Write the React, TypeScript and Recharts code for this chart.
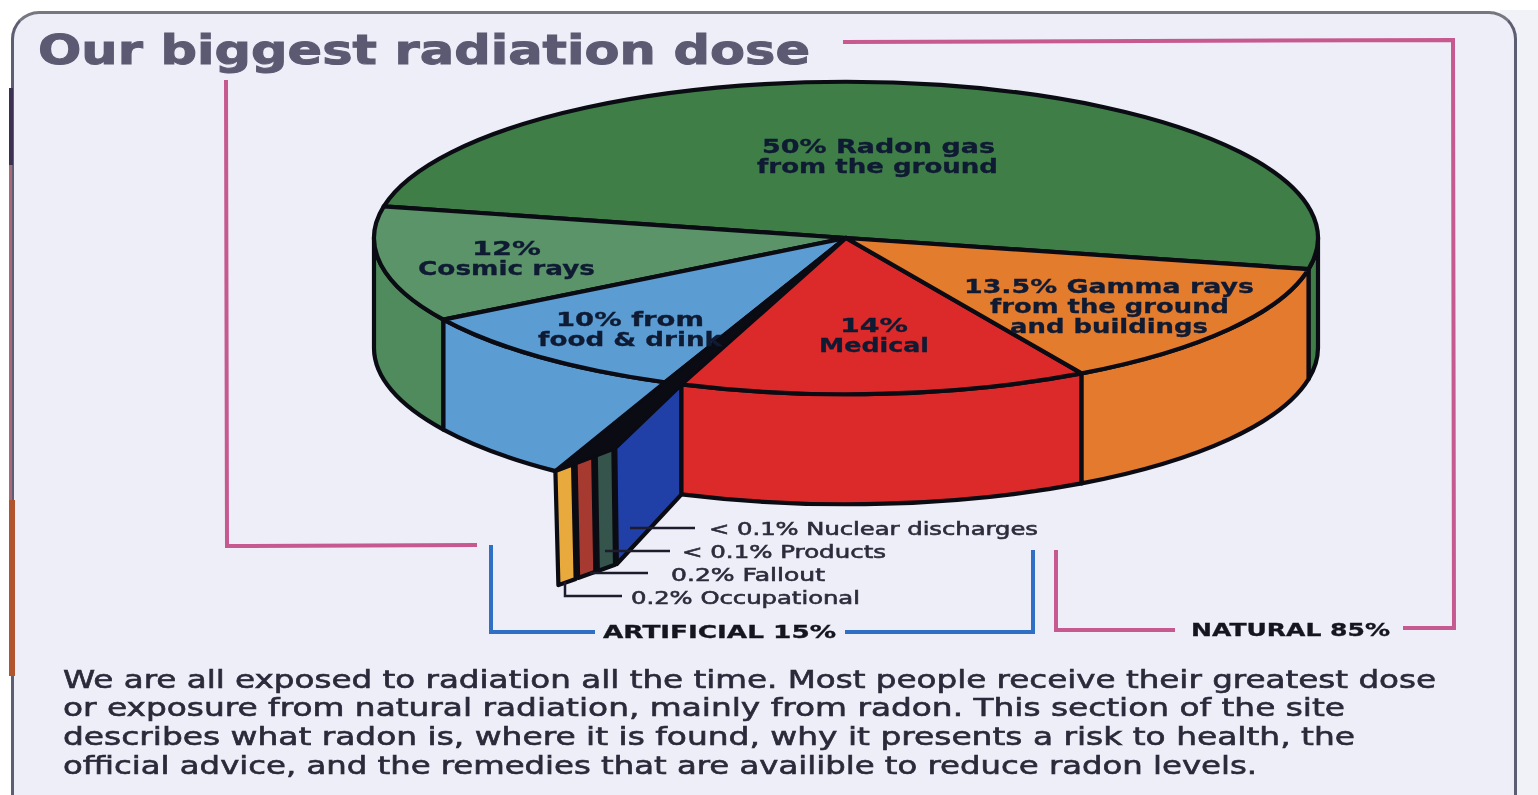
import React from "react";
import { PieChart, Pie } from "recharts";

// ---------- data ----------
const categories = [
  "Radon gas from the ground",
  "Cosmic rays",
  "Food & drink",
  "Occupational",
  "Fallout",
  "Products",
  "Nuclear discharges",
  "Medical",
  "Gamma rays from the ground and buildings",
];
const percentages = [50, 12, 10, 0.2, 0.2, 0.1, 0.1, 14, 13.5];

// ---------- style ----------
const topColors = ["#3f7e47", "#5a9468", "#5b9cd3", "#111", "#111", "#111", "#111", "#dc2a2a", "#e47c2e"];
const wallColors = ["#3f7e47", "#4f8b5c", "#5b9cd3", "#e9aa3d", "#a63a30", "#35544b", "#2040a8", "#dc2a2a", "#e37a2e"];
const planeRanges: ([number, number] | null)[] = [null, null, null, [0.86, 1], [0.7, 0.84], [0.54, 0.68], [0, 0.525], null, null];
const INK = "#0b0b14";
const OUTLINE = 4.2;
const START = -11.5;
const CX = 846;
const CY = 238;
const RADIUS = 472;
const TILT = 0.331;
const DEPTH = 110;
const CUT_ANGLE = 232;
const KNEE_T = 0.525;
const KNEE_TOP_DROP = 18;
const KNEE_BOTTOM_DROP = 22;

const rows = categories.map((name, i) => ({
  name,
  value: percentages[i],
  top: topColors[i],
  wall: wallColors[i],
  plane: planeRanges[i],
  cut: name === "Food & drink",
}));

const total = percentages.reduce((a, b) => a + b, 0);
const angleAfter = (n: number) => START + (360 * percentages.slice(0, n).reduce((a, b) => a + b, 0)) / total;
const FOOD_END = angleAfter(3);
const PLANE_START = angleAfter(7);

const pt = (deg: number, dz = 0): [number, number] => {
  const t = (deg * Math.PI) / 180;
  return [CX + RADIUS * Math.cos(t), CY - RADIUS * TILT * Math.sin(t) + dz];
};
const T0 = pt(PLANE_START);
const TIP = pt(CUT_ANGLE);
const TIP_TOP: [number, number] = [TIP[0], TIP[1] + DEPTH];
const TIP_BOTTOM: [number, number] = [TIP_TOP[0] + 3, TIP_TOP[1] + 114];
const kneeDrop = (t: number, drop: number) => (t <= KNEE_T ? (drop * t) / KNEE_T : (drop * (1 - t)) / (1 - KNEE_T));
const planeTop = (t: number): [number, number] => [
  T0[0] + (TIP_TOP[0] - T0[0]) * t,
  T0[1] + (TIP_TOP[1] - T0[1]) * t + kneeDrop(t, KNEE_TOP_DROP),
];
const planeBottom = (t: number): [number, number] => [
  T0[0] + (TIP_BOTTOM[0] - T0[0]) * t,
  T0[1] + DEPTH + (TIP_BOTTOM[1] - T0[1] - DEPTH) * t + kneeDrop(t, KNEE_BOTTOM_DROP),
];
const xy = (p: [number, number]) => `${p[0]} ${p[1]}`;

const frontRange = (a: number, b: number): [number, number] | null => {
  for (const off of [0, 360]) {
    const lo = Math.max(a + off, 180);
    const hi = Math.min(b + off, 360);
    if (lo < hi) return [lo, hi];
  }
  return null;
};

const WallShape = (p: any) => {
  const row = p.payload ?? p;
  const plane = row.plane ?? p.plane;
  const fill = row.wall ?? p.wall;
  const cut = row.cut ?? p.cut;
  if (plane) {
    const [a, b] = plane;
    const d = `M${xy(planeTop(a))}L${xy(planeTop(b))}L${xy(planeBottom(b))}L${xy(planeBottom(a))}Z`;
    return <path d={d} fill={fill} stroke={INK} strokeWidth={OUTLINE} strokeLinejoin="round" />;
  }
  const range = frontRange(p.startAngle, p.endAngle);
  if (!range) return <g />;
  const [lo, hi] = range;
  const rx = p.outerRadius;
  const ry = p.outerRadius * TILT;
  const d = cut
    ? `M${xy(pt(lo))}A${rx} ${ry} 0 0 0 ${xy(pt(hi))}L${xy(TIP_TOP)}A${rx} ${ry} 0 0 1 ${xy(pt(lo, DEPTH))}Z`
    : `M${xy(pt(lo))}A${rx} ${ry} 0 0 0 ${xy(pt(hi))}L${xy(pt(hi, DEPTH))}A${rx} ${ry} 0 0 1 ${xy(pt(lo, DEPTH))}Z`;
  return <path d={d} fill={fill} stroke={INK} strokeWidth={OUTLINE} strokeLinejoin="round" />;
};

const TopShape = (p: any) => {
  const row = p.payload ?? p;
  const fill = row.top ?? p.top;
  const rx = p.outerRadius;
  const ry = p.outerRadius * TILT;
  const large = Math.abs(p.endAngle - p.startAngle) > 180 ? 1 : 0;
  const d = `M${p.cx} ${p.cy}L${xy(pt(p.startAngle))}A${rx} ${ry} 0 ${large} 0 ${xy(pt(p.endAngle))}Z`;
  return <path d={d} fill={fill} stroke={INK} strokeWidth={OUTLINE} strokeLinejoin="round" />;
};

// ---------- text ----------
type Txt = [string, number, number, number, number, boolean, string];
const SLICE = "#0f1a33";
const SMALL = "#2c2c3c";
const BODY = "#2a2a3a";
const texts: Txt[] = [
  ["Our biggest radiation dose", 38, 810, 64, 40, true, "#5c5a72"],
  ["50% Radon gas", 762, 995, 153, 19, true, SLICE],
  ["from the ground", 757, 998, 173, 19, true, SLICE],
  ["12%", 472, 541, 255, 19, true, SLICE],
  ["Cosmic rays", 418, 595, 275, 19, true, SLICE],
  ["10% from", 556, 704, 326, 19, true, SLICE],
  ["food & drink", 538, 722, 346, 19, true, SLICE],
  ["14%", 840, 908, 332, 19, true, SLICE],
  ["Medical", 819, 929, 352, 19, true, SLICE],
  ["13.5% Gamma rays", 964, 1254, 293, 19, true, SLICE],
  ["from the ground", 990, 1229, 313, 19, true, SLICE],
  ["and buildings", 1010, 1208, 333, 19, true, SLICE],
  ["< 0.1% Nuclear discharges", 709, 1038, 535, 18, false, SMALL],
  ["< 0.1% Products", 682, 886, 558, 18, false, SMALL],
  ["0.2% Fallout", 671, 825, 581, 18, false, SMALL],
  ["0.2% Occupational", 631, 860, 604, 18, false, SMALL],
  ["ARTIFICIAL 15%", 603, 836, 638, 17, true, "#15151f"],
  ["NATURAL 85%", 1191, 1390, 636, 17, true, "#15151f"],
  ["We are all exposed to radiation all the time. Most people receive their greatest dose", 63, 1436, 688, 25, false, BODY],
  ["or exposure from natural radiation, mainly from radon. This section of the site", 63, 1345, 716, 25, false, BODY],
  ["describes what radon is, where it is found, why it presents a risk to health, the", 63, 1355, 745, 25, false, BODY],
  ["official advice, and the remedies that are availible to reduce radon levels.", 63, 1257, 774, 25, false, BODY],
];

const PINK = "#c65a90";
const BLUE = "#2f6fc4";
const brackets: [string, string][] = [
  ["M843 42L1453 40L1454 628L1403 628", PINK],
  ["M1056 550L1056 630L1175 630", PINK],
  ["M226 80L227 546L477 545", PINK],
  ["M491 545L491 632L595 632", BLUE],
  ["M845 632L1033 632L1033 550", BLUE],
];
const leaders = ["M630 528L695 528", "M605 551L670 551", "M590 573L648 573", "M565 582L565 596L622 596"];

const Overlay = () => {
  const foodEnd = pt(FOOD_END);
  const knee = planeTop(KNEE_T);
  return (
    <svg width={1538} height={795} style={{ position: "absolute", left: 0, top: 0, pointerEvents: "none" }}>
      <polygon
        points={[[CX, CY], foodEnd, TIP_TOP, knee, T0].map((q) => q.join(",")).join(" ")}
        fill={INK}
        stroke={INK}
        strokeWidth={2}
        strokeLinejoin="round"
      />
      {brackets.map(([d, c], i) => (
        <path key={i} d={d} fill="none" stroke={c} strokeWidth={4} />
      ))}
      {leaders.map((d, i) => (
        <path key={i} d={d} fill="none" stroke="#1c1c2c" strokeWidth={2.5} />
      ))}
      {texts.map(([s, x, x2, y, size, bold, color], i) => (
        <text
          key={i}
          x={x}
          y={y}
          textLength={x2 - x}
          lengthAdjust="spacingAndGlyphs"
          fontFamily="'DejaVu Sans', Verdana, sans-serif"
          fontWeight={bold ? 700 : 400}
          fontSize={size}
          fill={color}
          stroke={color}
          strokeWidth={bold ? (size > 30 ? 1 : 0.3) : 0.6}
        >
          {s}
        </text>
      ))}
    </svg>
  );
};

const Backdrop = () => (
  <div style={{ position: "absolute", inset: 0, background: "#ffffff", overflow: "hidden" }}>
    <div style={{ position: "absolute", left: 1500, top: 10, right: 0, bottom: 0, background: "#f1f2f8" }} />
    <div
      style={{
        position: "absolute",
        left: 11,
        top: 11,
        width: 1506,
        height: 860,
        boxSizing: "border-box",
        background: "#edeef7",
        border: "3px solid #5e5e72",
        borderTopColor: "#77777f",
        borderRadius: 28,
      }}
    />
    <div style={{ position: "absolute", left: 9, top: 88, width: 4, height: 77, background: "#3c3050" }} />
    <div style={{ position: "absolute", left: 9, top: 165, width: 3, height: 335, background: "#a86a7a" }} />
    <div style={{ position: "absolute", left: 9, top: 500, width: 6, height: 176, background: "#b0552e" }} />
  </div>
);

export default function App() {
  return (
    <div style={{ position: "fixed", left: 0, top: 0, width: 1538, height: 795, overflow: "hidden", filter: "blur(0.6px)" }}>
      <Backdrop />
      <div style={{ position: "absolute", left: 0, top: 0 }}>
        <PieChart width={1538} height={795} margin={{ top: 0, right: 0, bottom: 0, left: 0 }}>
          <Pie
            data={rows}
            dataKey="value"
            nameKey="name"
            cx={CX}
            cy={CY}
            innerRadius={0}
            outerRadius={RADIUS}
            startAngle={START}
            endAngle={START + 360}
            isAnimationActive={false}
            shape={WallShape}
            stroke="none"
          />
          <Pie
            data={rows}
            dataKey="value"
            nameKey="name"
            cx={CX}
            cy={CY}
            innerRadius={0}
            outerRadius={RADIUS}
            startAngle={START}
            endAngle={START + 360}
            isAnimationActive={false}
            shape={TopShape}
            stroke="none"
          />
        </PieChart>
      </div>
      <Overlay />
    </div>
  );
}
